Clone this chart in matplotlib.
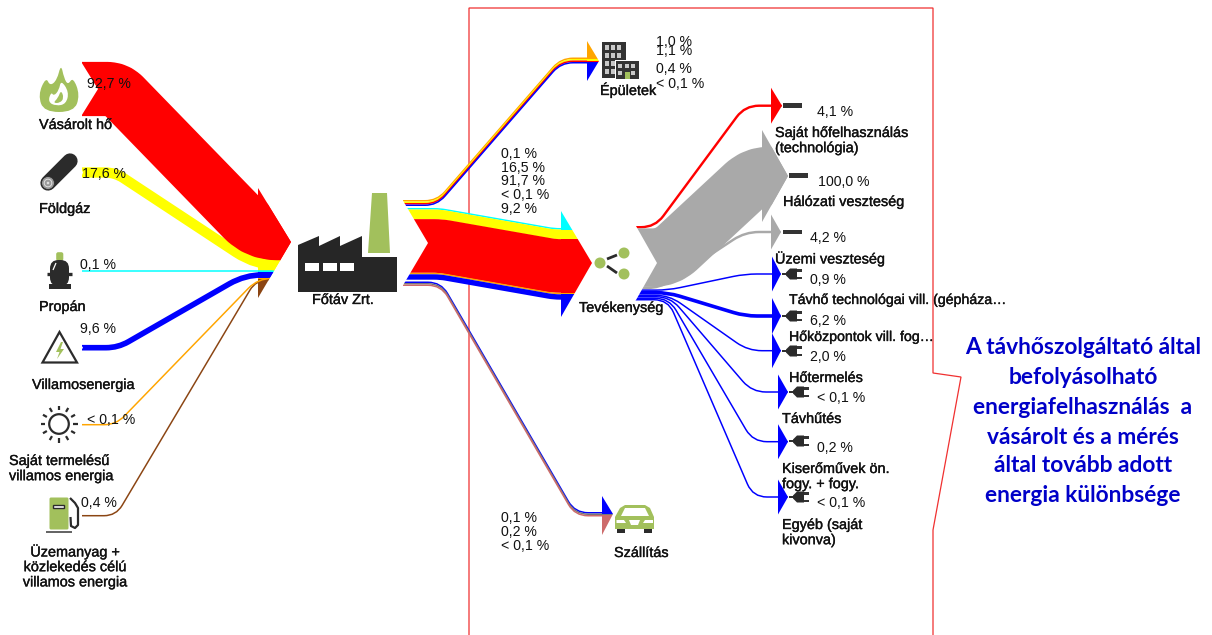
import numpy as np
import matplotlib
matplotlib.use("Agg")
import matplotlib.pyplot as plt
import matplotlib.patheffects as pe
from matplotlib.path import Path
from matplotlib.patches import PathPatch, Polygon, Rectangle, Circle, FancyBboxPatch

# ---------- DATA ----------
input_names = ["Vásárolt hő", "Földgáz", "Propán", "Villamosenergia",
               "Saját termelésű\nvillamos energia",
               "Üzemanyag +\nközlekedés célú\nvillamos energia"]
input_values = [92.7, 17.6, 0.1, 9.6, 0.05, 0.4]
input_labels = ["92,7 %", "17,6 %", "0,1 %", "9,6 %", "< 0,1 %", "0,4 %"]

building_values = [0.05, 1.0, 1.1, 0.4]
building_labels = ["1,0 %", "1,1 %", "0,4 %", "< 0,1 %"]

activity_values = [0.1, 16.5, 91.7, 0.05, 9.2]
activity_labels = ["0,1 %", "16,5 %", "91,7 %", "< 0,1 %", "9,2 %"]

transport_values = [0.1, 0.2, 0.05]
transport_labels = ["0,1 %", "0,2 %", "< 0,1 %"]

use_names = ["Saját hőfelhasználás\n(technológia)", "Hálózati veszteség", "Üzemi veszteség",
             "Távhő technológai vill. (gépháza…", "Hőközpontok vill. fog…", "Hőtermelés",
             "Távhűtés", "Kiserőművek ön.\nfogy. + fogy.", "Egyéb (saját\nkivonva)"]
use_values = [4.1, 100.0, 4.2, 0.9, 6.2, 2.0, 0.05, 0.2, 0.05]
use_labels = ["4,1 %", "100,0 %", "4,2 %", "0,9 %", "6,2 %", "2,0 %", "< 0,1 %", "0,2 %", "< 0,1 %"]

note_lines = ["A távhőszolgáltató által", "befolyásolható", "energiafelhasználás  a",
              "vásárolt és a mérés", "által tovább adott", "energia különbsége"]

# ---------- STYLE ----------
RED, YEL, CYA, BLU, ORA, BRO = "#ff0000", "#ffff00", "#00ffff", "#0000ff", "#ffa500", "#8b4513"
GRY, PNK, DGY = "#a9a9a9", "#cd6b6b", "#777777"
DARK, GREEN = "#2b2b2b", "#a2c05c"
input_colors = [RED, YEL, CYA, BLU, ORA, BRO]
building_colors = [ORA, YEL, RED, BLU]
activity_colors = [CYA, YEL, RED, ORA, BLU]
transport_colors = [BLU, DGY, PNK]
PX_PER_PCT = 0.585
MIN_W = 1.5
FONT = "Liberation Sans"


def width(v):
    return max(v * PX_PER_PCT, MIN_W)


def stack(top, values):
    """y ranges of bands stacked from y=top, sized from the values."""
    out, y = [], top
    for v in values:
        out.append((y, y + width(v)))
        y += width(v)
    return out


fig = plt.figure(figsize=(12.12, 6.35), dpi=100)
ax = fig.add_axes([0, 0, 1, 1])
ax.set_xlim(0, 1212)
ax.set_ylim(635, 0)
ax.axis("off")


def head_clip(xw, xt, yt, ytip, yb):
    return Polygon([(-20, -20), (xw, -20), (xw, yt), (xt, ytip), (xw, yb), (xw, 660), (-20, 660)],
                   transform=ax.transData, closed=True)


def band(x0, y0, xa, xb, y1, x1, w, color, r=18, clip=None, z=3):
    if abs(y0 - y1) < 0.01:
        verts, codes = [(x0, y0), (x1, y1)], [Path.MOVETO, Path.LINETO]
    else:
        d = np.array([xb - xa, y1 - y0], float)
        d /= np.hypot(*d)
        r1, r2 = (r, r) if np.isscalar(r) else r
        verts = [(x0, y0), (xa - r1, y0), (xa, y0), (xa + d[0] * r1, y0 + d[1] * r1),
                 (xb - d[0] * r2, y1 - d[1] * r2), (xb, y1), (xb + r2, y1), (x1, y1)]
        codes = [Path.MOVETO, Path.LINETO, Path.CURVE3, Path.CURVE3,
                 Path.LINETO, Path.CURVE3, Path.CURVE3, Path.LINETO]
    p = PathPatch(Path(verts, codes), fill=False, edgecolor=color, lw=w * 0.72,
                  capstyle="butt", joinstyle="round", zorder=z)
    ax.add_patch(p)
    if clip is not None:
        p.set_clip_path(clip)


def head(xw, xt, yt, ytip, yb, ranges, colors, z=3):
    tri = Polygon([(xw, yt), (xt, ytip), (xw, yb)], closed=True, transform=ax.transData)
    n = len(ranges)
    for i, ((a, b), c) in enumerate(zip(ranges, colors)):
        a2 = yt if i == 0 else a
        b2 = yb if i == n - 1 else b + 0.3
        rect = Rectangle((xw - 0.5, a2), xt - xw + 1, b2 - a2, fc=c, ec="none", zorder=z)
        ax.add_patch(rect)
        rect.set_clip_path(tri)


def notch(pts, z=4):
    ax.add_patch(Polygon(pts, closed=True, fc="white", ec="none", zorder=z))


# ---------- CALLOUT OUTLINE ----------
ax.plot([469, 469, 933, 933, 961, 933, 933], [635, 8, 8, 373, 377, 530, 635],
        color="#f03030", lw=0.9, zorder=1, solid_joinstyle="miter")

# ---------- INPUTS ----------
in_r = stack(206, input_values)
in_geo = [  # start y, corner x a, corner x b, tangent lengths
    (89, 117, 257, (10, 20)),
    (172.5, 115, 256, (10, 24)),
    None,
    (347.7, 118, 245, (12, 18)),
    (424.7, 116, 258, (12, 14)),
    (515.7, 116, 256, (12, 12)),
]
head(258, 291, 188, 242, 298, in_r, input_colors)
for i in [5, 4, 3, 2, 1, 0]:
    a, b = in_r[i]
    yc = (a + b) / 2
    w = width(input_values[i])
    clip = head_clip(258, 291, 188, 242, 298)
    if in_geo[i] is None:
        band(82, yc, 0, 0, yc, 291, w, input_colors[i], clip=clip)
    else:
        y0, xa, xb, r = in_geo[i]
        band(82, y0, xa, xb, yc, 291, w, input_colors[i], r=r, clip=clip)
notch([(80, 60), (98, 89), (80, 118)])
notch([(80, 165), (83, 172.5), (80, 180)])
notch([(80, 343), (83, 347.7), (80, 352)])

# ---------- OUTPUTS OF FŐTÁV ----------
b_r = stack(200, building_values)
b_target = stack(57.5, building_values)
for (a, bb), (ta, tb), v, c in zip(b_r, b_target, building_values, building_colors):
    band(403, (a + bb) / 2, 437, 561, (ta + tb) / 2, 588, width(v), c, r=12)
head(587, 599, 41, 61, 81, b_target, building_colors)

a_r = stack(208, activity_values)
a_target = stack(228, activity_values)
for (a, bb), (ta, tb), v, c in zip(a_r, a_target, activity_values, activity_colors):
    band(403, (a + bb) / 2, 440, 554, (ta + tb) / 2, 562, width(v), c, r=6)
head(561, 592, 211, 263, 317, a_target, activity_colors)

t_r = stack(281.5, transport_values)
t_target = stack(512, transport_values)
for (a, bb), (ta, tb), v, c in zip(t_r, t_target, transport_values, transport_colors):
    band(403, (a + bb) / 2, 441, 575, (ta + tb) / 2, 603, width(v), c, r=13, z=2)
head(602, 613, 496, 514, 535, t_target, transport_colors)
notch([(402, 199), (428, 243), (402, 287)])

# ---------- OUTPUTS OF TEVÉKENYSÉG ----------
u_r = stack(226, use_values)
u_geo = [  # corner a, corner b, target y, wing x, tip x, head half-height, tangent
    (655, 745, 105.7, 771, 782, 18, 14),
    (667, 755, 176, 762, 788, 46, 14),
    (660, 745, 232, 771, 781, 17.5, 14),
    (668, 745, 274, 772, 781, 17.5, 12),
    (668, 745, 316, 772, 781, 18, 12),
    (669, 748, 350.7, 772, 781, 17.5, 14),
    (670, 752, 392, 778, 788, 17.5, 14),
    (669, 753, 441.7, 778, 788, 17.5, 14),
    (668, 753, 497, 778, 788, 17.5, 14),
]
use_colors = [RED, GRY, GRY, BLU, BLU, BLU, BLU, BLU, BLU]
for i in [2, 3, 4, 5, 6, 7, 8, 0, 1]:
    a, b = u_r[i]
    xa, xb, yt, xw, xt, hh, r = u_geo[i]
    clip = head_clip(xw, xt, yt - hh, yt, yt + hh)
    band(634, (a + b) / 2, xa, xb, yt, xt, width(use_values[i]), use_colors[i], r=r, clip=clip)
    ax.add_patch(Polygon([(xw, yt - hh), (xt, yt), (xw, yt + hh)], closed=True,
                         fc=use_colors[i], ec="none", zorder=3))
notch([(632, 220), (636, 226), (657, 263), (636, 300), (632, 306)])


# ---------- ICONS ----------
def poly(pts, fc=DARK, z=6, ec="none", lw=0):
    ax.add_patch(Polygon(pts, closed=True, fc=fc, ec=ec, lw=lw, zorder=z))


def smooth(pts, fc, z=6):
    pts = np.array(pts, float)
    mids = (pts + np.roll(pts, -1, axis=0)) / 2
    v, c = [mids[-1]], [Path.MOVETO]
    for p, m in zip(pts, mids):
        v += [p, m]
        c += [Path.CURVE3, Path.CURVE3]
    ax.add_patch(PathPatch(Path(v, c), fc=fc, ec="none", zorder=z))


def seg(x, y, c=DARK, lw=1.6, z=6, cap="butt"):
    ax.plot(x, y, color=c, lw=lw, zorder=z, solid_capstyle=cap)


# flame
smooth([(61, 64), (64, 78), (68, 85), (73, 77), (80, 95), (74, 112), (44, 112), (38, 95),
        (46, 77), (50, 86), (57, 80)], GREEN)
smooth([(61, 80), (69, 92), (66, 104), (56, 106), (48, 102), (51, 92), (54, 96), (59, 90)], "white", 7)
smooth([(61, 90), (64, 98), (60, 103), (53, 103), (58, 98)], GREEN, 8)
# log
seg([48, 70], [183, 161], DARK, 11, cap="round")
ax.add_patch(Circle((48, 183), 6.5, fc="#9a9a9a", ec=DARK, lw=0.6, zorder=7))
ax.add_patch(Circle((48, 183), 3.8, fc="none", ec="#e0e0e0", lw=0.7, zorder=8))
ax.add_patch(Circle((48, 183), 1.3, fc="#e0e0e0", ec="none", zorder=8))
# propane tank
ax.add_patch(FancyBboxPatch((57, 253), 5.5, 7, boxstyle="round,pad=0.8,rounding_size=2",
                            fc=GREEN, ec="none", zorder=6))
ax.add_patch(FancyBboxPatch((50, 260), 19, 26, boxstyle="round,pad=0,rounding_size=8.5",
                            fc=DARK, ec="none", zorder=6))
ax.add_patch(Rectangle((49, 284), 21.5, 5, fc=DARK, ec="none", zorder=6))
seg([47, 72], [274, 274], DARK, 2.4)
seg([53, 56], [270, 263], "white", 0.9, 7)
# warning triangle
poly([(59.5, 332), (42.5, 362.5), (77, 362.5)], "white", 6, DARK, 1.6)
poly([(61, 342), (56, 352), (59.5, 352), (57, 359), (64, 349), (60.5, 349), (63, 342)], GREEN, 7)
# sun
ax.add_patch(Circle((59, 424), 9.8, fc="none", ec=DARK, lw=1.6, zorder=6))
for ang in np.deg2rad(np.arange(0, 360, 30)):
    seg([59 + 14 * np.cos(ang), 59 + 18.5 * np.cos(ang)],
        [424 + 14 * np.sin(ang), 424 + 18.5 * np.sin(ang)], DARK, 1.6)
# fuel pump
ax.add_patch(FancyBboxPatch((51, 499), 16, 29, boxstyle="round,pad=1.5", fc=GREEN, ec="none", zorder=6))
ax.add_patch(Rectangle((53, 504.5), 11, 3.5, fc="white", ec=DARK, lw=1, zorder=7))
ax.add_patch(Rectangle((46, 531), 26, 2, fc="#666666", ec="none", zorder=6))
seg([70, 75, 78, 78, 75, 71, 70.5], [498, 503, 508, 525, 528, 526, 517], DARK, 1.6)
# factory
poly([(298, 292), (298, 245), (319, 236), (319, 246), (340, 236), (340, 246), (362, 236),
      (362, 257), (397, 257), (397, 292)], "#262626")
for wx in (305, 323, 340):
    ax.add_patch(Rectangle((wx, 263), 14, 7.5, fc="white", ec="none", zorder=7))
poly([(372, 193), (387, 193), (390, 253), (368, 253)], GREEN)
# buildings
ax.add_patch(Rectangle((602, 42), 24, 36, fc="#333333", ec="none", zorder=6))
ax.add_patch(Rectangle((614.5, 60), 24.5, 18.5, fc="white", ec="none", zorder=7))
ax.add_patch(Rectangle((615.5, 61), 23.5, 17.5, fc="#333333", ec="none", zorder=7))
for wx in (604.5, 610.5, 616.5):
    for wy in (44.5, 52.5):
        ax.add_patch(Rectangle((wx, wy), 4, 5.5, fc="#c9c9c9", ec="none", zorder=8))
for wx in (604.5, 610.5):
    for wy in (60.5, 68.5):
        ax.add_patch(Rectangle((wx, wy), 4, 5.5, fc="#c9c9c9", ec="none", zorder=8))
for wx in (618, 624.5, 631):
    ax.add_patch(Rectangle((wx, 63.5), 4, 4.5, fc="#c9c9c9", ec="none", zorder=8))
for wx in (618, 631):
    ax.add_patch(Rectangle((wx, 70.5), 4, 4.5, fc="#c9c9c9", ec="none", zorder=8))
ax.add_patch(Rectangle((624.5, 72), 5, 6.5, fc=GREEN, ec="none", zorder=8))
# share nodes
seg([607, 617], [259, 255], DARK, 2)
seg([607, 617], [266, 273], DARK, 2)
for cx, cy in [(600, 263), (624, 253), (624, 274)]:
    ax.add_patch(Circle((cx, cy), 5.5, fc=GREEN, ec="none", zorder=7))
# car
poly([(615, 529), (615, 517), (620, 508), (625, 505), (645, 505), (650, 508), (654, 517), (654, 529)], GREEN)
poly([(621, 516), (625, 508), (645, 508), (649, 516)], "white", 7)
poly([(616.5, 520), (624, 520), (626, 523), (616.5, 523)], "white", 7)
poly([(645, 520), (652.5, 520), (652.5, 523), (643, 523)], "white", 7)
poly([(629, 520), (640, 520), (638, 525), (631, 525)], "white", 7)
ax.add_patch(Rectangle((617, 529), 8, 4, fc=DARK, ec="none", zorder=7))
ax.add_patch(Rectangle((644, 529), 8, 4, fc=DARK, ec="none", zorder=7))
# dashes (loss sinks)
for x, y in [(783, 105.5), (789, 175.5), (783, 232)]:
    ax.add_patch(Rectangle((x, y - 2.2), 19, 4.4, fc="#333333", ec="none", zorder=6))
# plugs
for x, y in [(782, 274), (782, 316), (782, 351), (789, 392), (789, 441), (789, 497)]:
    seg([x, x + 6], [y, y], DARK, 1.4)
    poly([(x + 4, y - 1.5), (x + 8, y - 5.5), (x + 15, y - 5.5), (x + 15, y + 5.5), (x + 8, y + 5.5), (x + 4, y + 1.5)], DARK)
    ax.add_patch(Rectangle((x + 14.5, y - 4.6), 5.5, 2.2, fc="#333333", ec="none", zorder=6))
    ax.add_patch(Rectangle((x + 14.5, y + 2.6), 5.5, 2.2, fc="#333333", ec="none", zorder=6))


# ---------- TEXT ----------
def label(x, y, s, size=10.2, ha="left", step=15.2, bold=False):
    for k, line in enumerate(s.split("\n")):
        t = ax.text(x, y + 1 + k * step, line, fontsize=size, family=FONT, color="#111111",
                    ha=ha, va="center", zorder=10)
        if bold:
            t.set_path_effects([pe.withStroke(linewidth=0.25, foreground="#111111")])


NM = dict(size=10.4, bold=True)
name_pos = [(39, 124), (39, 208), (39, 306), (32, 384), (9, 460), (75, 551)]
for k, (nm, (x, y)) in enumerate(zip(input_names, name_pos)):
    label(x, y, nm, ha="center" if k == 5 else "left", **NM)
for s, (x, y) in zip(input_labels, [(87, 83), (82, 173), (80, 264), (80, 328), (87, 419), (81, 502)]):
    label(x, y, s)
label(312, 299, "Főtáv Zrt.", **NM)
label(600, 89, "Épületek", **NM)
label(579, 307, "Tevékenység", **NM)
label(614, 552, "Szállítás", **NM)
for s, y in zip(building_labels, [41, 50, 68, 83]):
    label(656, y, s)
for s, y in zip(activity_labels, [153, 167, 180, 194, 208]):
    label(501, y, s)
for s, y in zip(transport_labels, [517, 531, 545]):
    label(501, y, s)
use_name_pos = [(775, 132), (783, 201), (775, 258), (789, 299), (789, 336), (789, 377), (782, 418), (782, 468), (782, 524)]
for k, (s, (x, y)) in enumerate(zip(use_names, use_name_pos)):
    label(x, y, s, size=10.2 if k in (3, 4) else 10.4, bold=True)
use_lab_pos = [(817, 111), (818, 181), (810, 237), (810, 279), (810, 320), (810, 356), (817, 397), (817, 447), (817, 502)]
for s, (x, y) in zip(use_labels, use_lab_pos):
    label(x, y, s)
for s, y in zip(note_lines, [348, 378, 408, 437, 466, 496]):
    ax.text(1083, y, s, fontsize=16.4, family="Lato", weight="bold", color="#0000c8",
            ha="center", va="center", zorder=10)

fig.savefig("out.png", dpi=100)
